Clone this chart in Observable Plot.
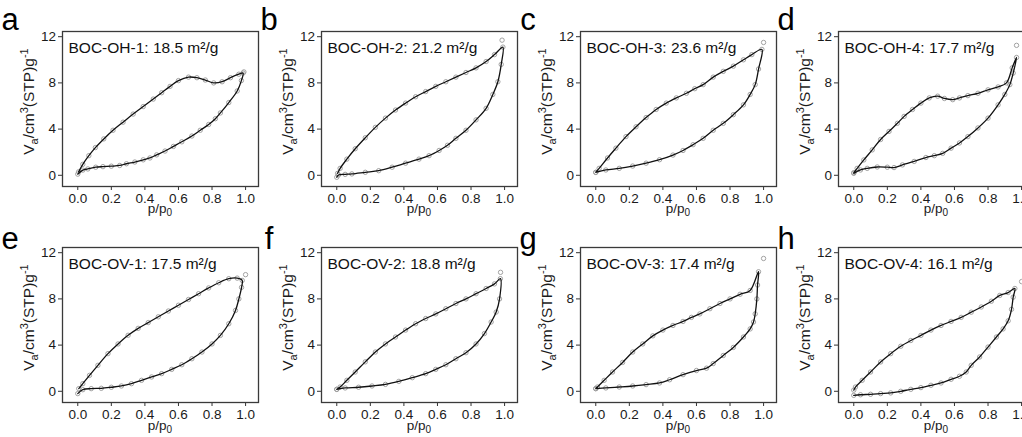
<!DOCTYPE html>
<html>
<head>
<meta charset="utf-8">
<script src="https://cdn.jsdelivr.net/npm/d3@7"></script>
<script src="https://cdn.jsdelivr.net/npm/@observablehq/plot@0.6"></script>
<style>
  html, body { margin: 0; padding: 0; background: #fff; }
  #wrap { position: relative; width: 1022px; height: 437px; overflow: hidden; background: #fff; }
  #wrap svg { position: absolute; max-width: none; }
</style>
</head>
<body>
<div id="wrap"></div>
<script>
// ---------- data ----------
const letters = ["a", "b", "c", "d", "e", "f", "g", "h"];
const samples = ["BOC-OH-1", "BOC-OH-2", "BOC-OH-3", "BOC-OH-4", "BOC-OV-1", "BOC-OV-2", "BOC-OV-3", "BOC-OV-4"];
const areas = ["18.5", "21.2", "23.6", "17.7", "17.5", "18.8", "17.4", "16.1"];
const xTicks = [0, 0.2, 0.4, 0.6, 0.8, 1.0];
const yTicks = [0, 4, 8, 12];

// adsorption branches [p/p0, Va]
const adsA = [[0,0.1],[0.03,0.45],[0.06,0.55],[0.107,0.7],[0.15,0.75],[0.2,0.79],[0.25,0.85],[0.29,1.0],[0.34,1.15],[0.39,1.34],[0.43,1.5],[0.47,1.77],[0.52,2.1],[0.57,2.5],[0.62,2.9],[0.68,3.4],[0.73,3.9],[0.78,4.4],[0.82,4.9],[0.85,5.4],[0.9,6.3],[0.95,7.3],[0.975,8.2],[0.985,8.85]];
const adsB = [[0,-0.17],[0.01,0.03],[0.05,0.08],[0.09,0.12],[0.17,0.26],[0.25,0.4],[0.33,0.7],[0.41,1.05],[0.49,1.4],[0.55,1.7],[0.61,2.15],[0.66,2.6],[0.71,3.2],[0.77,3.9],[0.83,4.8],[0.89,5.8],[0.93,7.0],[0.96,8.1],[0.98,9.6],[0.99,11.1]];
const adsC = [[0,0.25],[0.06,0.46],[0.14,0.6],[0.22,0.8],[0.3,1.05],[0.38,1.35],[0.46,1.75],[0.52,2.15],[0.58,2.65],[0.64,3.2],[0.7,3.9],[0.76,4.5],[0.82,5.25],[0.88,6.1],[0.92,7.0],[0.95,7.85],[0.97,9.2],[0.99,10.9]];
const adsD = [[0,0.17],[0.04,0.46],[0.08,0.6],[0.14,0.72],[0.2,0.7],[0.24,0.67],[0.29,0.9],[0.36,1.2],[0.43,1.54],[0.48,1.7],[0.53,1.9],[0.58,2.35],[0.63,2.8],[0.68,3.35],[0.74,4.1],[0.8,4.95],[0.86,6.1],[0.9,7.0],[0.93,7.85],[0.95,8.85],[0.97,10.2]];
const adsE = [[0,-0.2],[0.03,0.14],[0.08,0.23],[0.14,0.26],[0.2,0.35],[0.26,0.46],[0.32,0.66],[0.38,0.95],[0.44,1.24],[0.5,1.53],[0.56,1.9],[0.62,2.3],[0.68,2.82],[0.74,3.4],[0.8,4.1],[0.85,4.84],[0.9,5.85],[0.94,7.0],[0.96,8.0],[0.976,9.0],[0.98,9.6]];
const adsF = [[0,0.17],[0.05,0.29],[0.13,0.35],[0.21,0.46],[0.29,0.6],[0.37,0.86],[0.45,1.18],[0.53,1.53],[0.59,1.9],[0.65,2.3],[0.71,2.82],[0.77,3.34],[0.83,4.1],[0.88,5.0],[0.92,6.0],[0.95,6.86],[0.97,8.0],[0.975,9.75]];
const adsG = [[0,0.23],[0.06,0.29],[0.14,0.37],[0.22,0.46],[0.3,0.58],[0.38,0.72],[0.44,1.0],[0.52,1.44],[0.6,1.8],[0.66,2.0],[0.7,2.4],[0.76,3.1],[0.82,3.8],[0.88,4.7],[0.92,5.4],[0.94,6.0],[0.95,6.7],[0.96,8.0],[0.964,9.2],[0.97,10.35]];
const adsH = [[0,-0.35],[0.04,-0.3],[0.1,-0.26],[0.16,-0.2],[0.22,-0.14],[0.28,0.0],[0.34,0.17],[0.4,0.32],[0.46,0.52],[0.52,0.72],[0.58,1.04],[0.63,1.3],[0.67,1.67],[0.7,2.25],[0.75,2.97],[0.8,3.83],[0.85,4.7],[0.89,5.4],[0.92,6.1],[0.94,7.1],[0.95,8.15],[0.96,8.9]];

// desorption branches [p/p0, Va], from high to low pressure
const desA = [[0.96,8.75],[0.91,8.45],[0.86,8.1],[0.81,8.0],[0.76,8.25],[0.71,8.45],[0.66,8.5],[0.6,8.2],[0.55,7.7],[0.5,7.15],[0.45,6.6],[0.39,5.95],[0.33,5.3],[0.27,4.6],[0.21,3.9],[0.155,3.15],[0.105,2.4],[0.066,1.7],[0.03,0.95],[0.005,0.3]];
const desB = [[0.94,10.45],[0.89,9.85],[0.83,9.3],[0.77,8.9],[0.71,8.5],[0.65,8.1],[0.59,7.7],[0.53,7.25],[0.47,6.8],[0.41,6.25],[0.35,5.65],[0.29,4.95],[0.23,4.15],[0.17,3.25],[0.11,2.3],[0.06,1.4],[0.02,0.6],[0.005,0.17]];
const desC = [[0.93,10.45],[0.88,10.0],[0.82,9.45],[0.76,9.0],[0.7,8.5],[0.64,7.85],[0.59,7.5],[0.54,7.1],[0.48,6.7],[0.42,6.25],[0.36,5.7],[0.3,5.0],[0.24,4.2],[0.18,3.35],[0.12,2.35],[0.07,1.5],[0.02,0.6],[0,0.26]];
const desD = [[0.944,9.3],[0.91,8.0],[0.86,7.65],[0.8,7.4],[0.74,7.1],[0.68,6.9],[0.63,6.7],[0.59,6.55],[0.54,6.65],[0.5,6.85],[0.45,6.7],[0.4,6.25],[0.35,5.7],[0.3,5.1],[0.26,4.5],[0.21,3.8],[0.16,3.1],[0.11,2.2],[0.06,1.33],[0.02,0.6],[0,0.23]];
const desE = [[0.95,9.8],[0.9,9.75],[0.84,9.4],[0.78,8.95],[0.72,8.45],[0.66,7.95],[0.6,7.45],[0.54,6.95],[0.48,6.45],[0.42,5.95],[0.36,5.45],[0.3,4.85],[0.24,4.1],[0.18,3.26],[0.12,2.25],[0.07,1.38],[0.03,0.66],[0.006,0.23]];
const desF = [[0.94,9.3],[0.89,8.9],[0.83,8.45],[0.77,8.0],[0.71,7.6],[0.65,7.15],[0.59,6.7],[0.53,6.3],[0.47,5.85],[0.41,5.3],[0.35,4.7],[0.29,4.1],[0.23,3.4],[0.17,2.55],[0.11,1.67],[0.06,0.95],[0.02,0.37],[0,0.17]];
const desG = [[0.92,8.73],[0.86,8.4],[0.8,8.0],[0.74,7.6],[0.68,7.15],[0.62,6.7],[0.57,6.4],[0.52,6.05],[0.46,5.7],[0.4,5.3],[0.34,4.8],[0.28,4.1],[0.22,3.4],[0.16,2.5],[0.1,1.67],[0.05,0.95],[0.01,0.37],[0,0.23]];
const desH = [[0.92,8.55],[0.87,8.3],[0.82,7.8],[0.76,7.3],[0.7,6.85],[0.64,6.4],[0.58,6.05],[0.52,5.7],[0.46,5.3],[0.4,4.84],[0.34,4.4],[0.28,3.9],[0.22,3.26],[0.16,2.54],[0.1,1.67],[0.05,0.95],[0.01,0.37],[0,0.1]];

// isolated top points near saturation
const extraPts = [[0.99,8.95],[0.985,11.7],[1.0,11.5],[0.97,11.25],[1.0,10.1],[0.976,10.3],[1.0,11.5],[1.0,9.5]];

const adsAll = [adsA, adsB, adsC, adsD, adsE, adsF, adsG, adsH];
const desAll = [desA, desB, desC, desD, desE, desF, desG, desH];

// ---------- layout ----------
const ML = 62, MT = 31, FW = 196, FH = 155, MR = 14, MB = 36;
const W = ML + FW + MR, H = MT + FH + MB;
const colLefts = [62, 320.5, 579.5, 838];
const rowTops = [30.5, 247];
const letterBase = [29, 248.5];
const xLabelBase = [212.5, 430];
const FONT = "'Liberation Sans', Arial, Helvetica, sans-serif";

const wrap = document.getElementById("wrap");

for (let i = 0; i < 8; i++) {
  const r = Math.floor(i / 4), c = i % 4;
  const toObj = ([p, v]) => ({p, v});
  const loop = [...adsAll[i].map(toObj), ...desAll[i].map(toObj)];
  const dots = [...loop, toObj(extraPts[i])];

  const chart = Plot.plot({
    width: W, height: H,
    marginLeft: ML, marginRight: MR, marginTop: MT, marginBottom: MB,
    style: {fontFamily: FONT, fontSize: "13.5px", background: "transparent", color: "#1a1a1a", overflow: "visible"},
    x: {domain: [-0.091, 1.077]},
    y: {domain: [-0.97, 12.45]},
    marks: [
      Plot.axisX({ticks: xTicks, tickFormat: d3.format(".1f"), tickSize: 4, tickPadding: 2.5, label: null, fontSize: 13.5, stroke: "#333"}),
      Plot.axisY({ticks: yTicks, tickSize: 4, tickPadding: 2.5, label: null, fontSize: 13.5, stroke: "#333"}),
      Plot.dot(dots, {x: "p", y: "v", r: 2.2, stroke: "#999", strokeWidth: 0.9, fill: "none"}),
      Plot.line(loop, {x: "p", y: "v", curve: "catmull-rom", stroke: "#111", strokeWidth: 1.3}),
      Plot.frame({stroke: "#3a3a3a", strokeWidth: 1.3}),
      Plot.text([samples[i] + ": " + areas[i] + " m\u00B2/g"], {
        frameAnchor: "top-left", dx: 6, dy: 10.5, fontSize: 15.5, fill: "#111", text: d => d
      })
    ]
  });

  const left = colLefts[c] - ML;
  const top = rowTops[r] - MT;
  chart.style.left = left + "px";
  chart.style.top = top + "px";

  const svg = d3.select(chart);
  // panel letter
  svg.append("text")
    .attr("x", ML - 52).attr("y", letterBase[r] - top)
    .attr("font-size", 31).attr("font-family", FONT).attr("fill", "#000")
    .text(letters[i]);

  // y-axis title
  const yt = svg.append("text")
    .attr("transform", `translate(${ML - 33},${MT + FH / 2 - 7}) rotate(-90)`)
    .attr("text-anchor", "middle").attr("dy", "0.35em")
    .attr("font-size", 15.5).attr("font-family", FONT).attr("fill", "#1a1a1a");
  yt.append("tspan").text("V");
  yt.append("tspan").attr("dy", 4).attr("font-size", 11).text("a");
  yt.append("tspan").attr("dy", -4).text("/cm");
  yt.append("tspan").attr("dy", -6).attr("font-size", 11).text("3");
  yt.append("tspan").attr("dy", 6).text("(STP)g");
  yt.append("tspan").attr("dy", -6).attr("font-size", 11).text("-1");

  // x-axis title
  const xt = svg.append("text")
    .attr("x", ML + FW / 2).attr("y", xLabelBase[r] - top)
    .attr("text-anchor", "middle")
    .attr("font-size", 13.5).attr("font-family", FONT).attr("fill", "#1a1a1a");
  xt.append("tspan").text("p/p");
  xt.append("tspan").attr("dy", 3).attr("font-size", 10).text("0");

  wrap.appendChild(chart);
}
</script>
</body>
</html>
